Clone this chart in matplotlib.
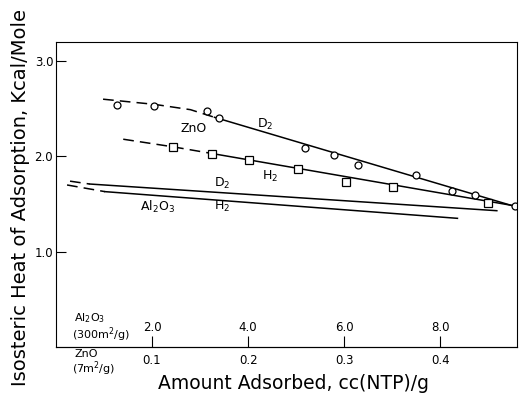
import matplotlib
matplotlib.use("Agg")
import matplotlib.pyplot as plt

# ZnO (7 m2/g) measured points
zno_d2_x = [0.064, 0.102, 0.157, 0.170, 0.259, 0.289, 0.314, 0.375, 0.4125, 0.436, 0.478]
zno_d2_y = [2.54, 2.53, 2.48, 2.40, 2.09, 2.01, 1.91, 1.80, 1.64, 1.59, 1.48]
zno_h2_x = [0.122, 0.1625, 0.201, 0.252, 0.302, 0.351, 0.450]
zno_h2_y = [2.10, 2.03, 1.96, 1.87, 1.73, 1.68, 1.51]

# drawn curves: dashed (extrapolated) part + solid part
zno_d2_dash_x = [0.049, 0.103, 0.140, 0.165]
zno_d2_dash_y = [2.60, 2.545, 2.49, 2.41]
zno_d2_line_x = [0.165, 0.481]
zno_d2_line_y = [2.41, 1.465]

zno_h2_dash_x = [0.070, 0.122, 0.1625]
zno_h2_dash_y = [2.18, 2.10, 2.03]
zno_h2_line_x = [0.1625, 0.478]
zno_h2_line_y = [2.03, 1.48]

# Al2O3 (300 m2/g) curves
al_d2_dash_x = [0.0146, 0.035]
al_d2_dash_y = [1.74, 1.71]
al_d2_line_x = [0.035, 0.459]
al_d2_line_y = [1.71, 1.43]

al_h2_dash_x = [0.0115, 0.051]
al_h2_dash_y = [1.70, 1.63]
al_h2_line_x = [0.051, 0.418]
al_h2_line_y = [1.63, 1.35]

zno_ticks = [0.1, 0.2, 0.3, 0.4]
al_ticks = [2.0, 4.0, 6.0, 8.0]   # Al2O3 scale = 20 x ZnO scale
y_ticks = [1.0, 2.0, 3.0]

plt.rcParams.update({"font.family": "DejaVu Sans"})

fig = plt.figure(figsize=(5.19, 3.93), dpi=100)
ax = fig.add_axes([56 / 519, 1 - 347 / 393, 461 / 519, 305 / 393])

dash = dict(color="black", lw=1.1, dashes=(7, 4))
solid = dict(color="black", lw=1.1)

ax.plot(zno_d2_dash_x, zno_d2_dash_y, **dash)
ax.plot(zno_d2_line_x, zno_d2_line_y, **solid)
ax.plot(zno_h2_dash_x, zno_h2_dash_y, **dash)
ax.plot(zno_h2_line_x, zno_h2_line_y, **solid)
ax.plot(al_d2_dash_x, al_d2_dash_y, **dash)
ax.plot(al_d2_line_x, al_d2_line_y, **solid)
ax.plot(al_h2_dash_x, al_h2_dash_y, **dash)
ax.plot(al_h2_line_x, al_h2_line_y, **solid)

ax.plot(zno_d2_x, zno_d2_y, "o", ms=5, mfc="white", mec="black", mew=0.9, ls="none")
ax.plot(zno_h2_x, zno_h2_y, "s", ms=5.5, mfc="white", mec="black", mew=0.9, ls="none")

# curve labels
ax.text(0.143, 2.29, "ZnO", fontsize=9, ha="center", va="center")
ax.text(0.218, 2.34, "D$_2$", fontsize=9, ha="center", va="center")
ax.text(0.223, 1.79, "H$_2$", fontsize=9, ha="center", va="center")
ax.text(0.173, 1.72, "D$_2$", fontsize=9, ha="center", va="center")
ax.text(0.106, 1.47, "Al$_2$O$_3$", fontsize=9, ha="center", va="center")
ax.text(0.173, 1.47, "H$_2$", fontsize=9, ha="center", va="center")

ax.set_xlim(0, 0.48)
ax.set_ylim(0, 3.2)

ax.set_yticks(y_ticks)
ax.set_yticklabels([f"{v:.1f}" for v in y_ticks])
ax.tick_params(axis="y", direction="in", length=7, width=0.8, labelsize=8.5, pad=2)

ax.set_xticks(zno_ticks)
ax.set_xticklabels([f"{v:.1f}" for v in zno_ticks])
ax.tick_params(axis="x", length=0, labelsize=8.5, pad=5)

# Al2O3 scale, drawn on the bottom spine with ticks/labels pointing inward
sec = ax.secondary_xaxis(0.0, functions=(lambda x: x * 20, lambda x: x / 20))
sec.set_alignment("top")
sec.set_xticks(al_ticks)
sec.set_xticklabels([f"{v:.1f}" for v in al_ticks])
sec.tick_params(axis="x", direction="out", length=8, width=0.8, labelsize=8.5, pad=1)

# scale captions at the left
ax.text(0.019, 0.30, "Al$_2$O$_3$", fontsize=8, ha="left", va="center")
ax.text(0.017, 0.125, "(300m$^2$/g)", fontsize=8, ha="left", va="center")
ax.text(0.019, -0.07, "ZnO", fontsize=8, ha="left", va="center", clip_on=False)
ax.text(0.017, -0.225, "(7m$^2$/g)", fontsize=8, ha="left", va="center", clip_on=False)

for s in ax.spines.values():
    s.set_linewidth(0.8)

ax.set_xlabel("Amount Adsorbed, cc(NTP)/g", fontsize=13.5)
ax.xaxis.set_label_coords(0.516, -0.09)
ax.set_ylabel("Isosteric Heat of Adsorption, Kcal/Mole", fontsize=14)
ax.yaxis.set_label_coords(-0.057, 0.49)

fig.savefig("out.png", dpi=100)
